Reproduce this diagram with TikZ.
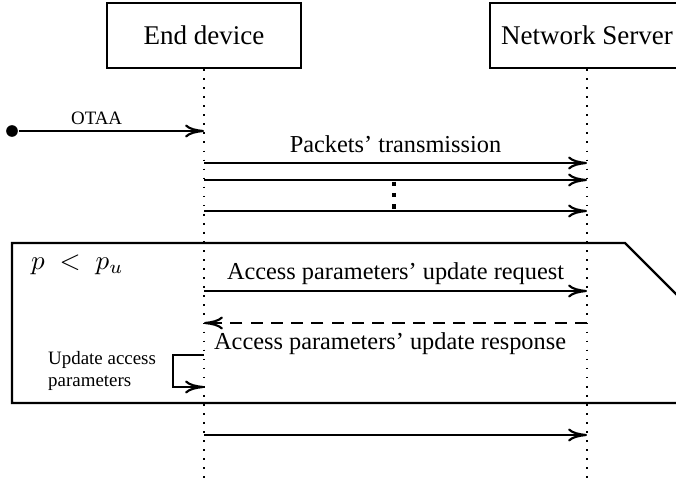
\documentclass[tikz,border=0pt]{standalone}
\usepackage{fontspec}
\setmainfont{Liberation Serif}
\usetikzlibrary{arrows.meta, positioning}

\begin{document}
\begin{tikzpicture}[x=0.37pt,y=-0.37pt,>={To[length=7pt,width=4.8pt]},thick,
  actor/.style={draw,minimum width=72pt,minimum height=24pt},
  lifeline/.style={semithick,dash pattern=on 0.6pt off 2.75pt},
  msg/.style={->},
  reply/.style={->,dash pattern=on 4.5pt off 3pt},
  label/.style={font=\fontsize{9}{11}\selectfont},
  note/.style={font=\scriptsize,align=left}]

  \useasboundingbox (0,0) rectangle (676,482);
  \clip (0,0) rectangle (676,482);

  \node[actor] (ED) at (204,35.5) {End device};
  \node[actor] (NS) at (587,35.5) {Network Server};

  % lifelines
  \coordinate (ED-end) at (ED.south |- 0,482);
  \coordinate (NS-end) at (NS.south |- 0,482);
  \draw[lifeline] (ED.south) -- (ED-end);
  \draw[lifeline] (NS.south) -- (NS-end);

  % message heights on both lifelines
  \foreach \m/\y in {otaa/131,pk1/163,pk2/180,pk3/211,req/291,resp/323,
                     up1/355,up2/387,last/435} {
    \coordinate (ed-\m) at (ED.south |- 0,\y);
    \coordinate (ns-\m) at (NS.south |- 0,\y);
  }

  \node[circle,fill,inner sep=0pt,minimum size=4.3pt] (start) at (12,131) {};
  \draw[msg] (start) -- node[pos=0.42,above,inner sep=2pt,font=\scriptsize] {OTAA} (ed-otaa);

  \path[msg]
    (ed-pk1) edge node[label,above] {Packets' transmission} (ns-pk1)
    (ed-pk2) edge (ns-pk2)
    (ed-pk3) edge (ns-pk3);
  \coordinate (gap-top) at (394,181.5);
  \coordinate (gap-bot) at (394,209);
  \draw[line width=1.4pt,dash pattern=on 1.6pt off 2.6pt] (gap-top) -- (gap-bot);

  % condition frame
  \draw (12,243) -- (625,243) -- (725,343) -- (725,403) -- (12,403) -- cycle;
  \node[anchor=west] (cond) at (21,265) {$p \;<\; p_u$};

  \draw[msg] (ed-req) -- node[label,above,inner sep=2pt] {Access parameters' update request} (ns-req);
  \draw[reply] (ns-resp) -- node[label,below,xshift=-2pt] {Access parameters' update response} (ed-resp);

  \draw[msg] (ed-up1) -- ++(-31,0) |- (ed-up2);
  \node[note,anchor=east] (upd) at (166,371) {Update access\\parameters};

  \draw[msg] (ed-last) -- (ns-last);
\end{tikzpicture}
\end{document}
